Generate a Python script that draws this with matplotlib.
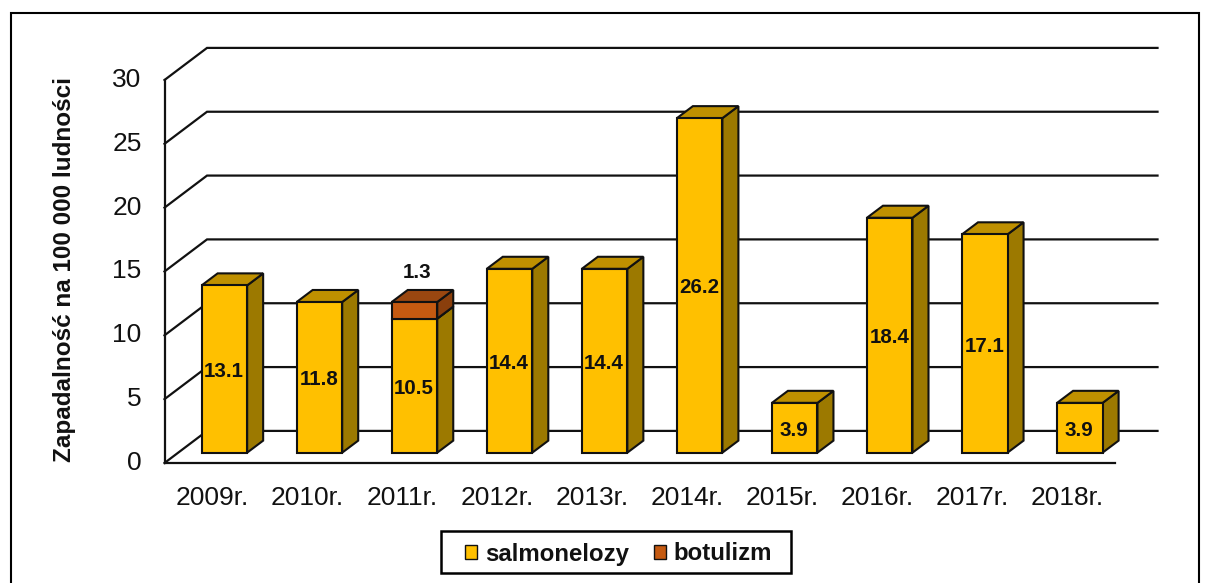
import matplotlib
matplotlib.use("Agg")
import matplotlib.pyplot as plt
from matplotlib.patches import Polygon, Rectangle
from matplotlib.transforms import ScaledTranslation

years = ["2009r.", "2010r.", "2011r.", "2012r.", "2013r.", "2014r.", "2015r.", "2016r.", "2017r.", "2018r."]
salmonelozy = [13.1, 11.8, 10.5, 14.4, 14.4, 26.2, 3.9, 18.4, 17.1, 3.9]
botulizm = [0, 0, 1.3, 0, 0, 0, 0, 0, 0, 0]
y_ticks = [0, 5, 10, 15, 20, 25, 30]

W, H = 1210, 583
plt.rcParams["font.family"] = ["Liberation Sans", "DejaVu Sans"]
fig = plt.figure(figsize=(W / 100, H / 100), dpi=100)

# axes rectangle in pixels
L, R, T, B = 164.5, 1115.0, 80.0, 463.0
ax = fig.add_axes([L / W, 1 - B / H, (R - L) / W, (B - T) / H])
ax.set_xlim(-0.5, 9.5)
ax.set_ylim(0, 30)
ax.patch.set_visible(False)
for s in ("top", "right"):
    ax.spines[s].set_visible(False)
for s in ("left", "bottom"):
    ax.spines[s].set_linewidth(1.6)
    ax.spines[s].set_color("#111111")
    ax.spines[s].set_zorder(1)

ax.set_xticks(range(len(years)), years)
ax.set_yticks(y_ticks)
ax.tick_params(axis="x", length=0, pad=16.5, labelsize=19, labelcolor="#111111")
ax.tick_params(axis="y", length=0, pad=16.5, labelsize=19, labelcolor="#111111")
up = ScaledTranslation(0, 2.5 / 100, fig.dpi_scale_trans)
for lab in ax.get_yticklabels():
    lab.set_transform(lab.get_transform() + up)
ax.set_ylabel("Zapadalność na 100 000 ludności", fontsize=17.5, fontweight="bold", color="#111111")
ax.yaxis.set_label_coords((76 - L) / (R - L), 0.504)

# wall depth and bar geometry, in axis units
wall_dx, wall_dy = 42.5 / 95, 32 / 12.73
bar_dx, bar_dy = 16 / 95, 12 / 12.73
bar_shift, bar_base, bar_w = 0.13, 0.81, 0.479
lw_grid, lw_bar = 1.6, 1.5
edge = "#111111"

for v in y_ticks:
    ax.plot([-0.5, -0.5 + wall_dx, 9.5 + wall_dx], [v, v + wall_dy, v + wall_dy],
            color=edge, lw=lw_grid, clip_on=False, zorder=1, solid_joinstyle="miter")


def box(x, bottom, height, front, side, top, z):
    left = x + bar_shift - bar_w / 2
    right = left + bar_w
    upper = bottom + height
    ax.bar(left, height, bar_w, bottom=bottom, align="edge", color=front,
           edgecolor=edge, linewidth=lw_bar, clip_on=False, zorder=z + 0.2)
    ax.add_patch(Polygon([(right, bottom), (right + bar_dx, bottom + bar_dy),
                          (right + bar_dx, upper + bar_dy), (right, upper)],
                         closed=True, facecolor=side, edgecolor=edge, lw=lw_bar,
                         clip_on=False, zorder=z))
    ax.add_patch(Polygon([(left, upper), (left + bar_dx, upper + bar_dy),
                          (right + bar_dx, upper + bar_dy), (right, upper)],
                         closed=True, facecolor=top, edgecolor=edge, lw=lw_bar,
                         clip_on=False, zorder=z))


for i, (a, b) in enumerate(zip(salmonelozy, botulizm)):
    z = 3 + i
    box(i, bar_base, a, "#FFC000", "#9C7900", "#BF9000", z)
    if b:
        box(i, bar_base + a, b, "#C55A11", "#8A3F0C", "#9A4710", z + 0.4)
        ax.text(i + 0.16, bar_base + a + b + 2.3, f"{b:.1f}", ha="center", va="center",
                fontsize=14.8, fontweight="bold", color="#111111", zorder=30)
    ax.text(i + bar_shift - 0.005, bar_base + a / 2 - 0.2, f"{a:.1f}", ha="center", va="center",
            fontsize=14.8, fontweight="bold", color="#111111", zorder=30)

# outer frame, cut by the lower edge of the picture
fig.add_artist(Rectangle((10.5 / W, -0.05), 1188.5 / W, 1.05 - 13 / H, transform=fig.transFigure,
                         fill=False, edgecolor="black", lw=1.5))

# legend box
fig.add_artist(Rectangle((440.5 / W, 1 - 573 / H), 350.5 / W, 42 / H, transform=fig.transFigure,
                         fill=False, edgecolor="black", lw=1.8))
handles = [Rectangle((0, 0), 1, 1, facecolor="#FFC000", edgecolor=edge, lw=1.0),
           Rectangle((0, 0), 1, 1, facecolor="#C55A11", edgecolor=edge, lw=1.0)]
fig.legend(handles, ["salmonelozy", "botulizm"], ncol=2, frameon=False, loc="center",
           bbox_to_anchor=(618.5 / W, 1 - 554 / H), borderpad=0, borderaxespad=0,
           prop={"weight": "bold", "size": 17.3}, handlelength=0.5, handleheight=0.5,
           handletextpad=0.3, columnspacing=1.05, labelcolor="#111111")

fig.savefig("out.png", dpi=100, facecolor="white")
